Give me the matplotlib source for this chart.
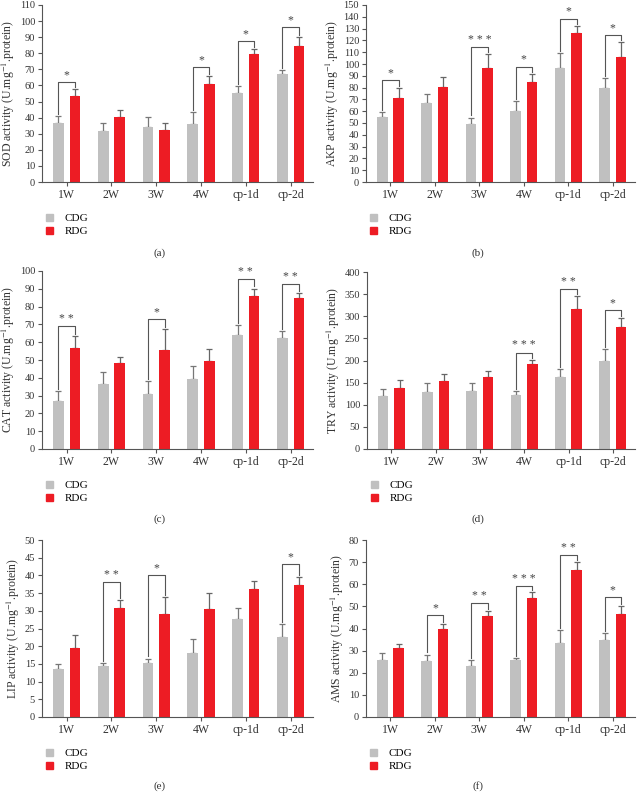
import numpy as np
import matplotlib
matplotlib.use('Agg')
import matplotlib.pyplot as plt
from matplotlib.patches import Patch

plt.rcParams['font.family'] = ['Liberation Serif', 'DejaVu Serif']
plt.rcParams['mathtext.fontset'] = 'stix'

groups = ['1W', '2W', '3W', '4W', 'cp-1d', 'cp-2d']

# SOD
sod_cdg = [36.5, 31.9, 34.0, 36.0, 55.1, 67.1]
sod_cdg_err = [4.7, 5.0, 6.4, 7.7, 4.4, 2.5]
sod_rdg = [53.2, 40.2, 32.5, 60.7, 79.8, 84.7]
sod_rdg_err = [4.8, 4.8, 4.2, 5.4, 2.7, 5.4]
sod_sig = [(0, '*', 62), (3, '*', 71.3), (4, '*', 87.6), (5, '*', 96.3)]

# AKP
akp_cdg = [55.4, 67.3, 49.5, 60.0, 96.5, 79.7]
akp_cdg_err = [4.0, 7.0, 5.1, 8.4, 12.4, 8.1]
akp_rdg = [71.0, 80.2, 96.3, 84.7, 126.4, 106.1]
akp_rdg_err = [8.4, 8.5, 12.1, 6.5, 5.6, 12.4]
akp_sig = [(0, '*', 86.4), (2, '***', 114.6), (3, '*', 97.7), (4, '*', 138.5), (5, '*', 124.4)]

# CAT
cat_cdg = [27.0, 36.3, 30.7, 39.3, 64.0, 62.5]
cat_cdg_err = [5.6, 7.0, 7.3, 7.5, 5.7, 3.8]
cat_rdg = [56.7, 48.3, 55.6, 49.6, 86.0, 85.0]
cat_rdg_err = [6.6, 3.6, 12.0, 6.4, 4.1, 2.5]
cat_sig = [(0, '**', 68.9), (2, '*', 73), (4, '**', 95.5), (5, '**', 92.7)]

# TRY
try_cdg = [120, 128, 132, 123, 162, 198]
try_cdg_err = [15, 22, 18, 8, 18, 28]
try_rdg = [138, 153, 162, 193, 316, 275]
try_rdg_err = [17, 16, 14, 8, 30, 20]
try_sig = [(3, '***', 218), (4, '**', 362), (5, '*', 313)]

# LIP
lip_cdg = [13.7, 14.5, 15.2, 18.0, 27.6, 22.6]
lip_cdg_err = [1.3, 0.7, 1.3, 4.1, 3.2, 3.7]
lip_rdg = [19.6, 30.8, 29.2, 30.4, 36.2, 37.4]
lip_rdg_err = [3.7, 2.3, 4.6, 4.5, 2.3, 2.1]
lip_sig = [(1, '**', 38.1), (2, '*', 40.1), (5, '*', 43.2)]

# AMS
ams_cdg = [25.6, 25.5, 23.2, 25.8, 33.4, 34.8]
ams_cdg_err = [3.2, 2.7, 2.7, 0.9, 5.9, 3.3]
ams_rdg = [31.2, 39.8, 45.8, 53.8, 66.4, 46.6]
ams_rdg_err = [1.9, 2.2, 2.1, 2.7, 3.8, 3.6]
ams_sig = [(1, '*', 46), (2, '**', 51.5), (3, '***', 59.4), (4, '**', 73.1), (5, '*', 54.1)]

gray = '#c0c0c0'
red = '#ed1c24'
dark = '#555555'

panels = [
    ('SOD', sod_cdg, sod_cdg_err, sod_rdg, sod_rdg_err, sod_sig, 110, 10, '(a)'),
    ('AKP', akp_cdg, akp_cdg_err, akp_rdg, akp_rdg_err, akp_sig, 150, 10, '(b)'),
    ('CAT', cat_cdg, cat_cdg_err, cat_rdg, cat_rdg_err, cat_sig, 100, 10, '(c)'),
    ('TRY', try_cdg, try_cdg_err, try_rdg, try_rdg_err, try_sig, 400, 50, '(d)'),
    ('LIP', lip_cdg, lip_cdg_err, lip_rdg, lip_rdg_err, lip_sig, 50, 5, '(e)'),
    ('AMS', ams_cdg, ams_cdg_err, ams_rdg, ams_rdg_err, ams_sig, 80, 10, '(f)'),
]

# axes boxes in pixels: left, right, top, bottom
boxes = [(42, 313, 5, 182), (366, 635, 5, 182),
         (42, 313, 271, 449), (367, 635, 272, 449),
         (42, 313, 540, 717), (366, 635, 540, 717)]
label_pos = [(0.25, 253), (0.75, 253), (0.25, 519), (0.75, 519), (0.25, 786), (0.75, 786)]

W, H = 637, 792
fig = plt.figure(figsize=(W / 100, H / 100), dpi=100)

x = np.arange(len(groups))
bw = 0.24
off = 0.185

for (name, cm, ce, rm, re, sig, ymax, ystep, lab), (l, r, t, b), (lx, ly) in zip(panels, boxes, label_pos):
    ax = fig.add_axes([l / W, 1 - b / H, (r - l) / W, (b - t) / H])
    ax.bar(x - off, cm, bw, color=gray, zorder=2)
    ax.bar(x + off, rm, bw, color=red, zorder=2)
    ax.errorbar(x - off, cm, yerr=[np.zeros(6), ce], fmt='none', ecolor='#777777',
                elinewidth=0.9, capsize=2.2, capthick=0.9, zorder=1)
    ax.errorbar(x + off, rm, yerr=[np.zeros(6), re], fmt='none', ecolor='#666666',
                elinewidth=0.9, capsize=2.2, capthick=0.9, zorder=1)
    gap = ymax * 0.012
    for i, stars, h in sig:
        y1 = cm[i] + ce[i] + gap
        y2 = rm[i] + re[i] + gap
        ax.plot([x[i] - off, x[i] - off, x[i] + off, x[i] + off], [y1, h, h, y2],
                color=dark, lw=0.8, zorder=3)
        ax.text(x[i], h + ymax * 0.006, ' '.join(stars), ha='center', va='bottom',
                fontsize=8.5, color='#444444')
    ax.set_xlim(-0.55, 5.5)
    ax.set_ylim(0, ymax)
    ax.set_yticks(np.arange(0, ymax + 0.1, ystep))
    ax.set_xticks(x)
    ax.set_xticklabels(groups, fontsize=8.5, color='#333333')
    ax.tick_params(axis='y', labelsize=7.5, colors='#333333', length=3, width=0.8, pad=2)
    ax.tick_params(axis='x', length=3, width=0.8, color=dark, pad=2)
    ax.tick_params(axis='y', color=dark)
    for s in ['top', 'right']:
        ax.spines[s].set_visible(False)
    for s in ['left', 'bottom']:
        ax.spines[s].set_color(dark)
        ax.spines[s].set_linewidth(0.8)
    ax.set_ylabel(name + r' activity (U.mg$^{-1}$.protein)', fontsize=8.5, color='#333333', labelpad=2)
    handles = [Patch(color=gray, label='CDG'), Patch(color=red, label='RDG')]
    ax.legend(handles=handles, loc='upper left', bbox_to_anchor=(0.0, -0.155), frameon=False,
              fontsize=8, handlelength=0.6, handleheight=0.6, handletextpad=1.0,
              labelspacing=0.3, borderaxespad=0)
    fig.text(lx, 1 - ly / H, lab, ha='center', va='center', fontsize=8, color='#333333')

fig.savefig('out.png', dpi=100)
